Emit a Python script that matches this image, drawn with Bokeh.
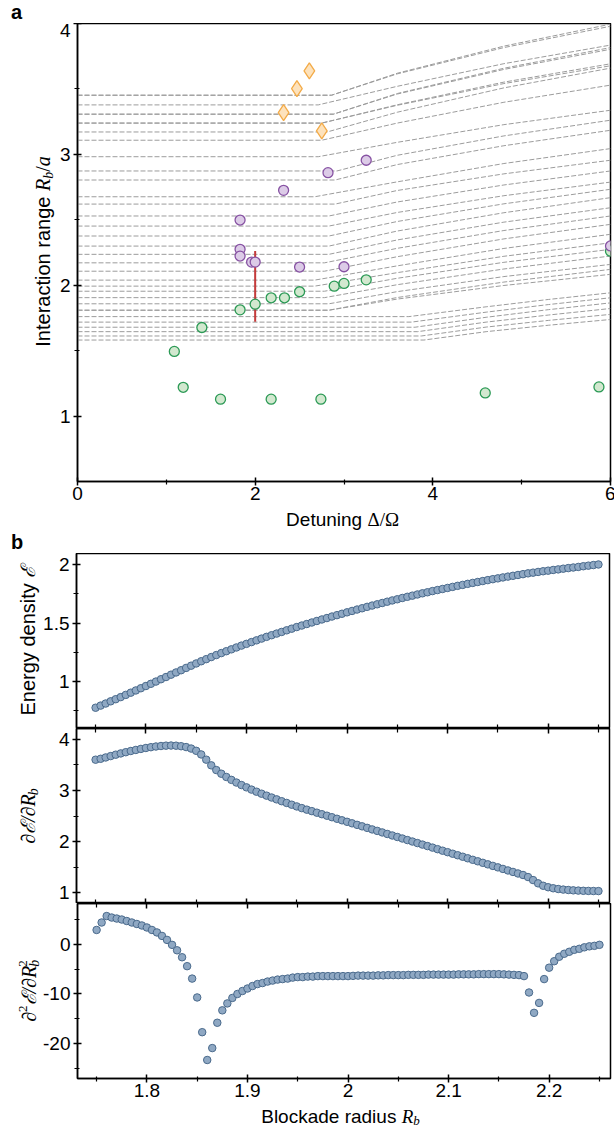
import math
from bokeh.plotting import figure
from bokeh.models import Range1d, FixedTicker, LinearAxis, Label, NumeralTickFormatter
from bokeh.layouts import column, row
from bokeh.embed import file_html
from bokeh.resources import INLINE

# ---------------- Panel a data ----------------
green_x = [1.09, 1.19, 1.40, 1.61, 1.83, 2.00, 2.18, 2.18, 2.33, 2.50, 2.74, 2.89, 3.00, 3.25, 4.59, 5.87, 6.00]
green_y = [1.494, 1.220, 1.677, 1.129, 1.812, 1.855, 1.904, 1.129, 1.904, 1.950, 1.129, 1.993, 2.014, 2.041, 1.177, 1.223, 2.260]
purple_x = [1.83, 1.83, 1.83, 1.96, 2.00, 2.32, 2.50, 2.82, 3.00, 3.25, 6.00]
purple_y = [2.498, 2.274, 2.223, 2.177, 2.177, 2.725, 2.139, 2.860, 2.141, 2.955, 2.300]
orange_x = [2.32, 2.47, 2.61, 2.75]
orange_y = [3.319, 3.503, 3.638, 3.179]
err_x = [2.00]
err_lo = [1.72]
err_hi = [2.261]

# dashed guide curves: flat value, kink position, two intermediate points, value at right edge
guide_y0 = [3.452, 3.452, 3.378, 3.307, 3.307, 3.239, 3.239, 3.171, 3.108, 2.982, 2.873, 2.804, 2.676, 2.620,
            2.529, 2.452, 2.376, 2.299, 2.236, 2.171, 2.107, 2.039, 1.993, 1.954, 1.905, 1.858, 1.809, 1.809,
            1.760, 1.718, 1.679, 1.645, 1.612, 1.581]
guide_xk = [2.86, 2.86, 2.71, 2.88, 2.88, 2.75, 2.75, 2.81, 2.75, 2.71, 2.92, 2.90, 2.67, 2.90,
            2.83, 2.83, 2.83, 2.83, 2.83, 2.78, 2.78, 2.67, 2.67, 2.78, 2.78, 2.83, 2.83, 2.83,
            3.73, 3.76, 3.80, 3.83, 3.87, 3.90]
guide_x1 = [3.6] * 28 + [4.6] * 6
guide_y1 = [3.620, 3.615, 3.520, 3.465, 3.461, 3.379, 3.375, 3.322, 3.239, 3.092, 2.993, 2.922, 2.790, 2.724,
            2.636, 2.556, 2.487, 2.414, 2.346, 2.282, 2.218, 2.148, 2.096, 2.053, 2.004, 1.951, 1.906, 1.894,
            1.835, 1.794, 1.755, 1.718, 1.680, 1.645]
guide_x2 = [4.8] * 28 + [5.3] * 6
guide_y2 = [3.827, 3.816, 3.693, 3.658, 3.649, 3.552, 3.541, 3.508, 3.398, 3.227, 3.141, 3.066, 2.930, 2.851,
            2.766, 2.684, 2.622, 2.554, 2.482, 2.418, 2.354, 2.281, 2.221, 2.175, 2.124, 2.066, 2.024, 1.998,
            1.891, 1.852, 1.813, 1.772, 1.731, 1.694]
guide_y6 = [3.995, 3.979, 3.835, 3.816, 3.803, 3.692, 3.677, 3.659, 3.529, 3.337, 3.261, 3.184, 3.044, 2.955,
            2.873, 2.788, 2.733, 2.669, 2.592, 2.529, 2.465, 2.389, 2.324, 2.274, 2.223, 2.159, 2.121, 2.083,
            1.942, 1.904, 1.865, 1.822, 1.777, 1.738]

# ---------------- Panel b data ----------------
rb = [1.750, 1.755, 1.760, 1.765, 1.770, 1.775, 1.780, 1.785, 1.790, 1.795,
      1.800, 1.805, 1.810, 1.815, 1.820, 1.825, 1.830, 1.835, 1.840, 1.845,
      1.850, 1.855, 1.860, 1.865, 1.870, 1.875, 1.880, 1.885, 1.890, 1.895,
      1.900, 1.905, 1.910, 1.915, 1.920, 1.925, 1.930, 1.935, 1.940, 1.945,
      1.950, 1.955, 1.960, 1.965, 1.970, 1.975, 1.980, 1.985, 1.990, 1.995,
      2.000, 2.005, 2.010, 2.015, 2.020, 2.025, 2.030, 2.035, 2.040, 2.045,
      2.050, 2.055, 2.060, 2.065, 2.070, 2.075, 2.080, 2.085, 2.090, 2.095,
      2.100, 2.105, 2.110, 2.115, 2.120, 2.125, 2.130, 2.135, 2.140, 2.145,
      2.150, 2.155, 2.160, 2.165, 2.170, 2.175, 2.180, 2.185, 2.190, 2.195,
      2.200, 2.205, 2.210, 2.215, 2.220, 2.225, 2.230, 2.235, 2.240, 2.245,
      2.250]
energy = [0.775, 0.793, 0.811, 0.830, 0.848, 0.866, 0.885, 0.904, 0.923, 0.942,
          0.961, 0.980, 0.999, 1.019, 1.038, 1.058, 1.077, 1.096, 1.116, 1.135,
          1.154, 1.173, 1.191, 1.209, 1.226, 1.243, 1.259, 1.275, 1.291, 1.307,
          1.322, 1.337, 1.352, 1.367, 1.382, 1.396, 1.410, 1.424, 1.438, 1.452,
          1.466, 1.479, 1.492, 1.505, 1.518, 1.531, 1.543, 1.556, 1.568, 1.580,
          1.592, 1.604, 1.616, 1.627, 1.639, 1.650, 1.661, 1.672, 1.683, 1.694,
          1.704, 1.715, 1.725, 1.735, 1.745, 1.755, 1.764, 1.774, 1.783, 1.792,
          1.801, 1.810, 1.819, 1.827, 1.836, 1.844, 1.852, 1.860, 1.868, 1.876,
          1.883, 1.891, 1.898, 1.905, 1.912, 1.919, 1.926, 1.932, 1.938, 1.944,
          1.949, 1.955, 1.960, 1.966, 1.971, 1.976, 1.981, 1.987, 1.992, 1.997,
          2.002]
d_energy = [3.600, 3.618, 3.644, 3.671, 3.698, 3.723, 3.747, 3.770, 3.791, 3.811,
            3.829, 3.845, 3.858, 3.868, 3.875, 3.877, 3.874, 3.864, 3.847, 3.818,
            3.774, 3.703, 3.601, 3.490, 3.398, 3.326, 3.263, 3.206, 3.154, 3.105,
            3.060, 3.016, 2.975, 2.936, 2.898, 2.861, 2.825, 2.789, 2.755, 2.721,
            2.687, 2.654, 2.624, 2.595, 2.565, 2.535, 2.506, 2.476, 2.446, 2.416,
            2.387, 2.357, 2.327, 2.298, 2.268, 2.238, 2.209, 2.179, 2.149, 2.119,
            2.090, 2.060, 2.030, 2.001, 1.971, 1.941, 1.912, 1.882, 1.852, 1.822,
            1.793, 1.763, 1.733, 1.704, 1.674, 1.644, 1.615, 1.585, 1.555, 1.525,
            1.496, 1.466, 1.436, 1.407, 1.377, 1.347, 1.307, 1.248, 1.184, 1.137,
            1.108, 1.088, 1.073, 1.062, 1.054, 1.047, 1.042, 1.038, 1.036, 1.034,
            1.033]
d2_energy = [2.9, 4.4, 5.7, 5.4, 5.2, 5.0, 4.7, 4.4, 4.1, 3.8,
             3.4, 2.9, 2.4, 1.7, 0.9, -0.1, -1.2, -2.6, -4.4, -6.9,
             -10.7, -17.7, -23.3, -20.9, -15.8, -13.3, -11.9, -10.8, -10.0, -9.4,
             -8.9, -8.4, -8.0, -7.8, -7.5, -7.3, -7.1, -7.0, -6.9, -6.7,
             -6.6, -6.6, -6.5, -6.5, -6.4, -6.4, -6.4, -6.4, -6.4, -6.4,
             -6.4, -6.35, -6.3, -6.3, -6.3, -6.3, -6.25, -6.25, -6.2, -6.2,
             -6.2, -6.2, -6.15, -6.15, -6.15, -6.15, -6.1, -6.1, -6.1, -6.1,
             -6.1, -6.1, -6.05, -6.05, -6.05, -6.05, -6.0, -6.0, -6.0, -6.0,
             -6.0, -6.05, -6.1, -6.15, -6.2, -6.4, -9.7, -13.8, -11.8, -7.0,
             -4.7, -3.4, -2.5, -1.9, -1.5, -1.1, -0.9, -0.6, -0.4, -0.3,
             -0.1]

# ticks
a_xticks, a_xminor = [0, 2, 4, 6], [1, 3, 5]
a_yticks, a_yminor = [1, 2, 3, 4], [1.5, 2.5, 3.5]
b_xticks = [1.8, 1.9, 2.0, 2.1, 2.2]
b_xminor = [1.75, 1.85, 1.95, 2.05, 2.15, 2.25]
b1_yticks, b1_yminor = [1, 1.5, 2], [0.75, 1.25, 1.75]
b2_yticks, b2_yminor = [1, 2, 3, 4], [1.5, 2.5, 3.5]
b3_yticks, b3_yminor = [-20, -10, 0], [-25, -15, -5, 5]

SANS = "Liberation Sans"
SERIF = "Liberation Serif"

SANS_W = dict(zip(" abcdefghijklmnopqrstuvwxyz",
                  [278, 556, 556, 500, 556, 556, 278, 556, 556, 222, 222, 500, 222, 833,
                   556, 556, 556, 556, 333, 500, 278, 556, 500, 722, 500, 500, 500]))
SANS_W.update({"I": 278, "D": 722, "B": 667, "E": 667, "R": 722})
SERIF_W = {"R": 611, "b": 500, "a": 500, "/": 278, "\u2202": 494, "\u2130": 560, "2": 500,
           "\u0394": 612, "\u03a9": 768, " ": 250}


def tw(text, font, size):
    tab = SANS_W if font == SANS else SERIF_W
    return sum(tab.get(c, 556) for c in text) * size / 1000.0


def make_fig(xr, yr, fw, fh, left, right, top, bottom):
    p = figure(x_range=Range1d(*xr), y_range=Range1d(*yr), frame_width=fw, frame_height=fh,
               min_border_left=left, min_border_right=right, min_border_top=top,
               min_border_bottom=bottom, output_backend="svg", toolbar_location=None,
               background_fill_color="white", border_fill_color="white")
    p.grid.visible = False
    p.outline_line_color = "black"
    p.outline_line_width = 1.5
    return p


def text_fig(w, h, bottom=0):
    f = figure(x_range=Range1d(0, w), y_range=Range1d(0, h), frame_width=w, frame_height=h,
               min_border_left=0, min_border_right=0, min_border_top=0, min_border_bottom=bottom,
               x_axis_location=None, y_axis_location=None, title=None, output_backend="svg",
               toolbar_location=None, background_fill_color="white", border_fill_color="white")
    f.grid.visible = False
    f.outline_line_color = None
    return f


def style_axis(ax, ticks, minor, mode="labels", fmt=None, standoff=3):
    ax.ticker = FixedTicker(ticks=ticks, minor_ticks=minor)
    ax.axis_line_color = "black"
    ax.axis_line_width = 1.5
    ax.major_tick_line_color = "black"
    ax.major_tick_line_width = 1.5
    ax.minor_tick_line_color = "black"
    ax.minor_tick_line_width = 1.2
    ax.major_tick_in = 4
    ax.major_tick_out = 4
    ax.minor_tick_in = 2
    ax.minor_tick_out = 3
    ax.major_label_text_font = SANS
    ax.major_label_text_font_size = "19px"
    ax.major_label_text_color = "black"
    ax.major_label_standoff = standoff
    ax.axis_label = None
    if fmt:
        ax.formatter = NumeralTickFormatter(format=fmt)
    if mode == "inside":
        ax.major_label_text_color = None
        ax.major_label_text_font_size = "0px"
        ax.major_label_standoff = 0
        ax.major_tick_out = 0
        ax.minor_tick_out = 0
        ax.major_tick_in = 5
        ax.minor_tick_in = 4


MID = 0.3465  # distance (in em) from the alphabetic baseline up to the middle of the text box


def label(f, px, py, text, font, size, style="normal", angle=0.0):
    # px, py: pixel position (from top-left of the text figure's frame) of the middle of the text line
    f.add_layout(Label(x=px, y=f.frame_height - py, text=text, text_font=font,
                       text_font_size=f"{size}px", text_font_style=style, text_color="black",
                       text_align="left", text_baseline="middle", angle=angle))


def rich(f, pieces, base, center, vertical):
    # base: pixel position of the alphabetic baseline; center: centre of the whole label
    total = sum(tw(t, fn, s) for (t, fn, s, st, sh, adv) in pieces if adv)
    acc = 0.0
    for (t, fn, s, st, sh, adv) in pieces:
        if vertical:
            label(f, base + sh - MID * s, center + total / 2 - acc, t, fn, s, st, math.pi / 2)
        else:
            label(f, center - total / 2 + acc, base + sh - MID * s, t, fn, s, st, 0.0)
        if adv:
            acc += tw(t, fn, s)


FW = 533
FB = 175  # frame height of each panel-b plot

# ---------------- Panel a ----------------
ta = text_fig(614, 23)
rich(ta, [("a", SANS, 20, "bold", 0, True)], 18.5, 16, False)

pa = make_fig((0, 6), (0.5, 4), FW, 458, 20, 5, 0, 27)
style_axis(pa.xaxis[0], a_xticks, a_xminor, standoff=1)
style_axis(pa.yaxis[0], a_yticks, a_yminor)

gxs = [[0, k, a, b, 6] for k, a, b in zip(guide_xk, guide_x1, guide_x2)]
gys = [[y0, y0, y1, y2, y6] for y0, y1, y2, y6 in zip(guide_y0, guide_y1, guide_y2, guide_y6)]
pa.multi_line(gxs, gys, line_color="#9c9c9c", line_width=1, line_dash="5 2")
pa.segment(x0=err_x, y0=err_lo, x1=err_x, y1=err_hi, line_color="#c43b3b", line_width=2)
pa.scatter(green_x, green_y, marker="circle", size=10, fill_color="#d2e8cf", line_color="#2c9a56", line_width=1.3)
pa.scatter(purple_x, purple_y, marker="circle", size=10, fill_color="#dccbe7", line_color="#8752a3", line_width=1.3)
pa.scatter(orange_x, orange_y, marker="diamond", size=16, fill_color="#fde2bc", line_color="#f3ab48", line_width=1.3)

la = text_fig(56, 458, bottom=27)
rich(la, [("Interaction range ", SANS, 20, "normal", 0, True),
          ("R", SERIF, 20, "italic", 0, True),
          ("b", SERIF, 14, "italic", 4, True),
          ("/", SERIF, 20, "normal", 0, True),
          ("a", SERIF, 20, "italic", 0, True)], 49, 228, True)
lax = text_fig(614, 22)
rich(lax, [("Detuning ", SANS, 19, "normal", 0, True),
           ("\u0394/\u03a9", SERIF, 19, "normal", 0, True)], 17.3, 342, False)

# ---------------- Panel b ----------------
BX = (1.731, 2.261)
MFILL, MLINE = "#8fa8c3", "#4a6a8c"

tb = text_fig(614, 23)
rich(tb, [("b", SANS, 20, "bold", 0, True)], 18.5, 16, False)

pb1 = make_fig(BX, (0.597, 2.096), FW, FB, 36, 5, 0, 0)
style_axis(pb1.xaxis[0], b_xticks, b_xminor, mode="inside")
style_axis(pb1.yaxis[0], b1_yticks, b1_yminor, fmt="0.[0]")
pb1.scatter(rb, energy, marker="circle", size=7.5, fill_color=MFILL, line_color=MLINE, line_width=1)
lb1 = text_fig(40, FB)
rich(lb1, [("Energy density ", SANS, 20, "normal", 0, True),
           ("\u2130", SERIF, 20, "italic", 0, True)], 34, FB / 2, True)

pb2 = make_fig(BX, (0.79, 4.21), FW, FB, 36, 5, 0, 0)
style_axis(pb2.xaxis[0], b_xticks, b_xminor, mode="inside")
style_axis(pb2.yaxis[0], b2_yticks, b2_yminor, fmt="0.[0]")
top2 = LinearAxis()
pb2.add_layout(top2, "above")
style_axis(top2, b_xticks, b_xminor, mode="inside")
pb2.scatter(rb, d_energy, marker="circle", size=7.5, fill_color=MFILL, line_color=MLINE, line_width=1)
lb2 = text_fig(40, FB)
rich(lb2, [("\u2202\u2130/\u2202R", SERIF, 20, "italic", 0, True),
           ("b", SERIF, 14, "italic", 4, True)], 34, FB / 2, True)

pb3 = make_fig(BX, (-27.03, 8.23), FW, FB, 36, 5, 0, 27)
style_axis(pb3.xaxis[0], b_xticks, b_xminor, fmt="0.[0]", standoff=1)
style_axis(pb3.yaxis[0], b3_yticks, b3_yminor, fmt="0.[0]")
top3 = LinearAxis()
pb3.add_layout(top3, "above")
style_axis(top3, b_xticks, b_xminor, mode="inside")
pb3.scatter(rb, d2_energy, marker="circle", size=7.5, fill_color=MFILL, line_color=MLINE, line_width=1)
lb3 = text_fig(40, FB, bottom=27)
rich(lb3, [("\u2202", SERIF, 20, "italic", 0, True),
           ("2", SERIF, 13, "normal", -8, True),
           ("\u2130/\u2202R", SERIF, 20, "italic", 0, True),
           ("b", SERIF, 14, "italic", 4, False),
           ("2", SERIF, 13, "normal", -8, True)], 35, FB / 2, True)
lbx = text_fig(614, 22)
rich(lbx, [("Blockade radius ", SANS, 19, "normal", 0, True),
           ("R", SERIF, 19, "italic", 0, True),
           ("b", SERIF, 13, "italic", 2, True)], 17.3, 340, False)

layout = column(ta, row(la, pa, spacing=0), lax,
                tb,
                row(lb1, pb1, spacing=0),
                row(lb2, pb2, spacing=0),
                row(lb3, pb3, spacing=0), lbx, spacing=0)
open("out.html", "w").write(file_html(layout, INLINE))
